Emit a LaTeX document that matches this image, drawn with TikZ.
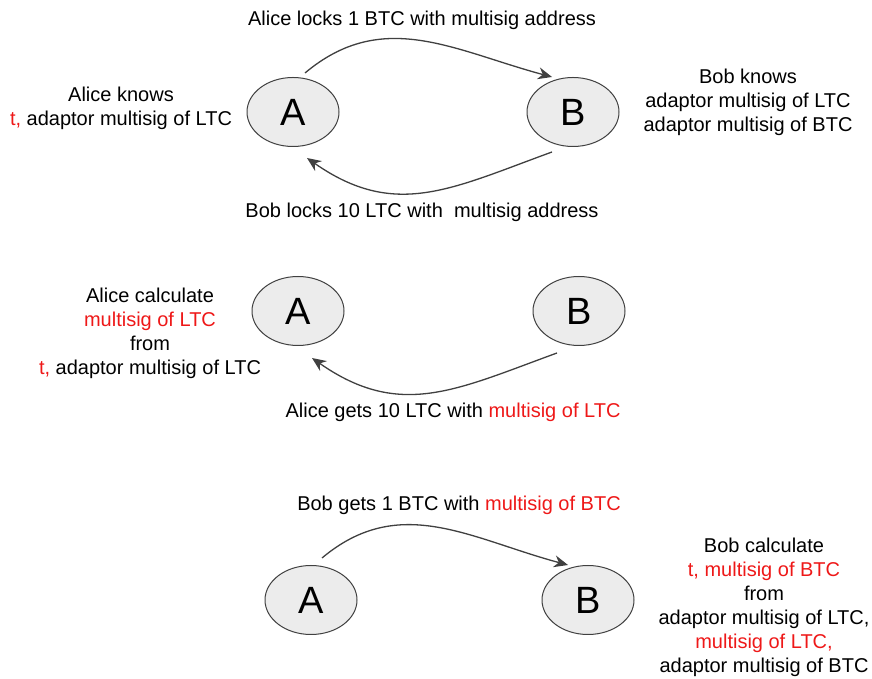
\documentclass[tikz,border=0pt]{standalone}
\usepackage{fontspec}
\setmainfont{Liberation Sans}
\usepackage{tikz}
\usetikzlibrary{calc}
\usetikzlibrary{shapes,arrows.meta}
\definecolor{edgegray}{RGB}{64,64,64}
\definecolor{partyfill}{RGB}{236,236,236}
\definecolor{secretred}{RGB}{238,24,24}
\tikzstyle{party} = [draw=edgegray, fill=partyfill, ellipse, line width=1pt, minimum width=92pt, minimum height=69pt, inner sep=0pt, font=\fontsize{38}{38}\selectfont]
\tikzstyle{note} = [align=center, inner sep=0pt, font=\fontsize{20}{24}\selectfont]
\tikzstyle{flow} = [draw=edgegray, line width=1.3pt, -{Stealth[length=14pt, width=12pt, inset=4.5pt]}]
\newcommand{\secret}[1]{\textcolor{secretred}{#1}}

\begin{document}
\begin{tikzpicture}[x=1pt, y=1pt]
\useasboundingbox (0,0) rectangle (872,679);
\node (aliceTop) [party] at (293,567) {A};
\path (aliceTop)+(280,0) node (bobTop) [party] {B};
\path (aliceTop)+(5,-199) node (aliceMid) [party] {A};
\path (aliceMid)+(281,0) node (bobMid) [party] {B};
\path (aliceMid)+(13,-289) node (aliceBot) [party] {A};
\path (aliceBot)+(277,0) node (bobBot) [party] {B};

\path (aliceTop)+(129,92) node (lockBTC) [note] {Alice locks 1 BTC with multisig address};
\path (aliceTop)+(129,-100) node (lockLTC) [note] {Bob locks 10 LTC with\ \ multisig address};
\path (aliceTop)+(-172,4) node (aliceKnows) [note] {Alice knows \\ \secret{t,} adaptor multisig of LTC};
\path (bobTop)+(175,10) node (bobKnows) [note] {Bob knows \\ adaptor multisig of LTC \\ adaptor multisig of BTC};
\path (aliceMid)+(-148,-22) node (aliceCalc) [note] {Alice calculate \\ \secret{multisig of LTC} \\ from \\ \secret{t,} adaptor multisig of LTC};
\path (aliceMid)+(155,-101) node (getsLTC) [note] {Alice gets 10 LTC with \secret{multisig of LTC}};
\path (aliceBot)+(148,95) node (getsBTC) [note] {Bob gets 1 BTC with \secret{multisig of BTC}};
\path (bobBot)+(176,-7.5) node (bobCalc) [note] {Bob calculate \\ \secret{t, multisig of BTC} \\ from \\ adaptor multisig of LTC, \\ \secret{multisig of LTC,} \\ adaptor multisig of BTC};

\draw[flow] ($(aliceTop)+(12,39)$) to[out=40, in=165, looseness=1.05] ($(bobTop)+(-21,35)$);
\draw[flow] ($(bobTop)+(-21,-40)$) to[out=200, in=-35, looseness=1.12] ($(aliceTop)+(14,-46)$);
\draw[flow] ($(bobMid)+(-22,-42)$) to[out=200, in=-35, looseness=1.12] ($(aliceMid)+(14,-47)$);
\draw[flow] ($(aliceBot)+(11,42)$) to[out=40, in=165, looseness=1.05] ($(bobBot)+(-20,35)$);
\end{tikzpicture}
\end{document}
